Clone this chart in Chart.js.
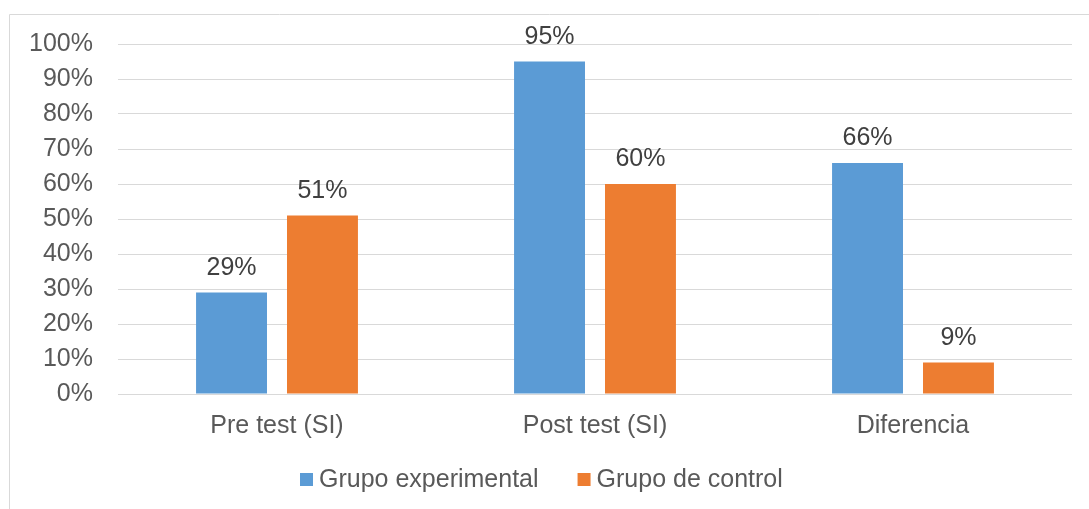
<!DOCTYPE html>
<html>
<head>
<meta charset="utf-8">
<script src="https://cdn.jsdelivr.net/npm/chart.js@4/dist/chart.umd.min.js"></script>
<style>
  html, body { margin: 0; padding: 0; background: #fff; }
  #wrap { width: 1089px; height: 509px; position: relative; }
</style>
</head>
<body>
<div id="wrap"><canvas id="chart"></canvas></div>
<script>
const categories = ['Pre test (SI)', 'Post test (SI)', 'Diferencia'];
const seriesNames = ['Grupo experimental', 'Grupo de control'];
const experimental = [29, 95, 66];
const control = [51, 60, 9];
const yTicks = [0, 10, 20, 30, 40, 50, 60, 70, 80, 90, 100];

const BLUE = '#5B9BD5';
const ORANGE = '#ED7D31';
const TEXT = '#595959';
const GRID = '#D9D9D9';
const FONT = '"Liberation Sans", Arial, sans-serif';
const SIZE = 25;

// marco del gráfico (borde gris)
const framePlugin = {
  id: 'frame',
  beforeDraw(chart) {
    const ctx = chart.ctx;
    ctx.save();
    ctx.strokeStyle = GRID;
    ctx.lineWidth = 1;
    ctx.beginPath();
    ctx.moveTo(9.5, chart.height + 5);
    ctx.lineTo(9.5, 14.5);
    ctx.lineTo(chart.width + 5, 14.5);
    ctx.stroke();
    ctx.restore();
  }
};

// etiquetas de valor sobre cada barra
const valueLabels = {
  id: 'valueLabels',
  afterDatasetsDraw(chart) {
    const ctx = chart.ctx;
    ctx.save();
    ctx.font = SIZE + 'px ' + FONT;
    ctx.fillStyle = '#404040';
    ctx.textAlign = 'center';
    ctx.textBaseline = 'alphabetic';
    chart.data.datasets.forEach((ds, i) => {
      chart.getDatasetMeta(i).data.forEach((bar, j) => {
        ctx.fillText(ds.data[j] + '%', bar.x, bar.y - 18);
      });
    });
    ctx.restore();
  }
};

// leyenda dibujada a mano para igualar el espaciado
const legendPlugin = {
  id: 'customLegend',
  afterDraw(chart) {
    const ctx = chart.ctx;
    const box = 13, gapText = 6, gapItem = 39;
    ctx.save();
    ctx.font = SIZE + 'px ' + FONT;
    const items = chart.data.datasets.map(ds => ({
      label: ds.label,
      color: ds.backgroundColor,
      w: ctx.measureText(ds.label).width
    }));
    let total = 0;
    items.forEach((it, i) => {
      total += box + gapText + it.w + (i < items.length - 1 ? gapItem : 0);
    });
    let x = Math.round(541 - total / 2);
    const baseline = 487;
    items.forEach(it => {
      ctx.fillStyle = it.color;
      ctx.fillRect(x, baseline - 14, box, box);
      x += box + gapText;
      ctx.fillStyle = TEXT;
      ctx.textAlign = 'left';
      ctx.textBaseline = 'alphabetic';
      ctx.fillText(it.label, x, baseline);
      x += it.w + gapItem;
    });
    ctx.restore();
  }
};

new Chart(document.getElementById('chart'), {
  type: 'bar',
  data: {
    labels: categories,
    datasets: [
      { label: seriesNames[0], data: experimental, backgroundColor: BLUE },
      { label: seriesNames[1], data: control, backgroundColor: ORANGE }
    ]
  },
  options: {
    responsive: true,
    maintainAspectRatio: false,
    animation: false,
    devicePixelRatio: 1,
    categoryPercentage: 0.572,
    barPercentage: 0.78,
    layout: { padding: { left: 0, right: 17, top: 44, bottom: 0 } },
    plugins: {
      legend: { display: false },
      tooltip: { enabled: false }
    },
    scales: {
      x: {
        grid: { display: false, drawTicks: false },
        border: { display: false },
        ticks: { color: TEXT, font: { family: FONT, size: SIZE }, padding: 17 },
        afterFit(scale) { scale.height = 115; }
      },
      y: {
        min: 0,
        max: 100,
        afterBuildTicks(scale) { scale.ticks = yTicks.map(v => ({ value: v })); },
        grid: { color: GRID, lineWidth: 1, drawTicks: false },
        border: { display: false },
        ticks: {
          color: TEXT,
          font: { family: FONT, size: SIZE },
          padding: 25,
          callback: v => v + '%'
        },
        afterFit(scale) { scale.width = 118; }
      }
    }
  },
  plugins: [framePlugin, valueLabels, legendPlugin]
});
</script>
</body>
</html>
